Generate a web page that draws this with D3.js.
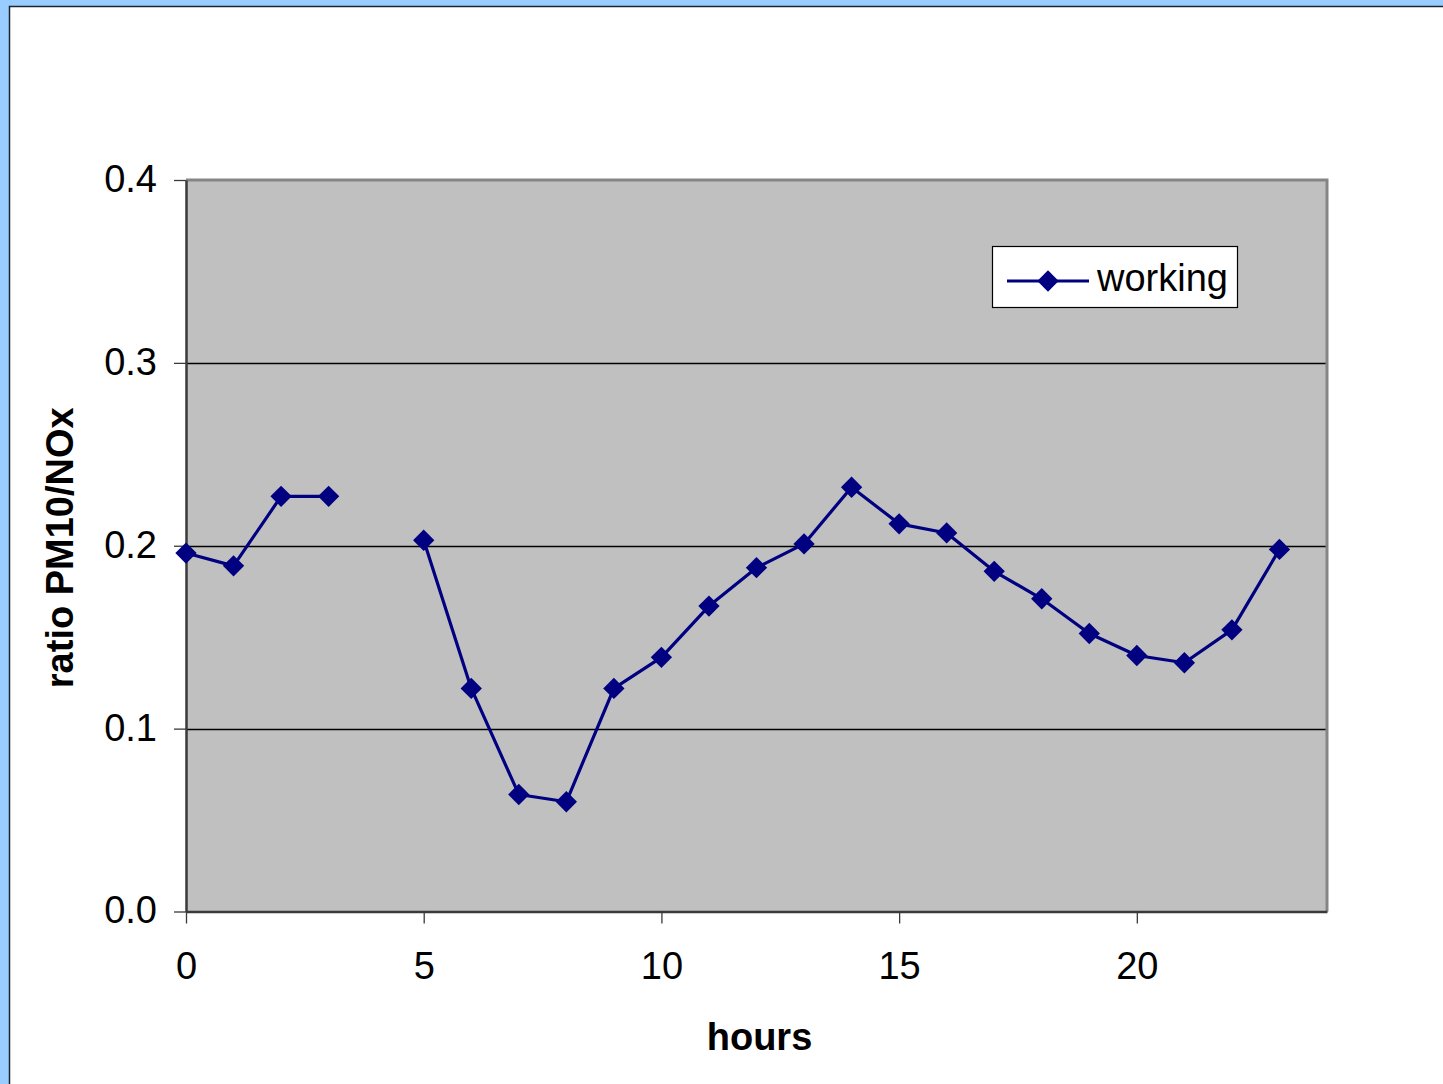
<!DOCTYPE html>
<html>
<head>
<meta charset="utf-8">
<script src="https://cdn.jsdelivr.net/npm/d3@7"></script>
<style>
  html, body { margin: 0; padding: 0; background: #99ccff; }
  svg { display: block; }
</style>
</head>
<body>
<svg id="chart" width="1443" height="1084"></svg>
<script>
// Hourly PM10/NOx ratio on working days (hour 4 has no value)
const hours = [0, 1, 2, 3, 4, 5, 6, 7, 8, 9, 10, 11, 12, 13, 14, 15, 16, 17, 18, 19, 20, 21, 22, 23];
const working = [0.196, 0.189, 0.227, 0.227, null, 0.203, 0.122, 0.064, 0.060, 0.122, 0.139, 0.167,
                 0.188, 0.201, 0.232, 0.212, 0.207, 0.186, 0.171, 0.152, 0.140, 0.136, 0.154, 0.198];
const xTicks = [0, 5, 10, 15, 20];
const yTicks = [0.0, 0.1, 0.2, 0.3, 0.4];
const seriesName = "working";
const xTitle = "hours";
const yTitle = "ratio PM10/NOx";

const svg = d3.select("#chart");
const W = 1443, H = 1084;
const font = "'Liberation Sans', Arial, sans-serif";

// outer panel
svg.append("rect").attr("width", W).attr("height", H).attr("fill", "#99ccff");
svg.append("rect").attr("x", 9.5).attr("y", 6.5).attr("width", W).attr("height", H)
  .attr("fill", "#ffffff").attr("stroke", "#1c2430").attr("stroke-width", 1.5);

const plot = { left: 186, top: 180, right: 1327, bottom: 911.5 };
const x = d3.scaleLinear().domain([0, 24]).range([plot.left, plot.right]);
const y = d3.scaleLinear().domain([0, 0.4]).range([plot.bottom, plot.top]);

// plot background
svg.append("rect")
  .attr("x", plot.left).attr("y", plot.top)
  .attr("width", plot.right - plot.left).attr("height", plot.bottom - plot.top)
  .attr("fill", "#c0c0c0");

// horizontal gridlines
svg.append("g").selectAll("line").data(yTicks.filter(d => d > 0 && d < 0.4)).join("line")
  .attr("x1", plot.left).attr("x2", plot.right)
  .attr("y1", d => Math.round(y(d)) + 0.5).attr("y2", d => Math.round(y(d)) + 0.5)
  .attr("stroke", "#000").attr("stroke-width", 1.3);

// plot frame: grey on top/right
svg.append("path")
  .attr("d", `M${plot.left},${plot.top} H${plot.right} V${plot.bottom}`)
  .attr("fill", "none").attr("stroke", "#858585").attr("stroke-width", 3);

// y axis
const yAxis = d3.axisLeft(y).tickValues(yTicks).tickFormat(d3.format(".1f"))
  .tickSize(12).tickSizeOuter(0).tickPadding(17);
const gy = svg.append("g").attr("transform", `translate(${plot.left},0)`).call(yAxis);
gy.select(".domain").attr("stroke", "#3a3a3a").attr("stroke-width", 2.5);
gy.selectAll(".tick line").attr("stroke", "#3a3a3a").attr("stroke-width", 1.3);
gy.selectAll(".tick text").attr("font-family", font).attr("font-size", 38).attr("fill", "#000")
  .attr("dy", "0.3em");

// x axis
const xAxis = d3.axisBottom(x).tickValues(xTicks).tickFormat(d3.format("d"))
  .tickSize(12).tickSizeOuter(0).tickPadding(29);
const gx = svg.append("g").attr("transform", `translate(0,${plot.bottom})`).call(xAxis);
gx.select(".domain").attr("stroke", "#3a3a3a").attr("stroke-width", 2.5);
gx.selectAll(".tick line").attr("stroke", "#3a3a3a").attr("stroke-width", 1.3);
gx.selectAll(".tick text").attr("font-family", font).attr("font-size", 38).attr("fill", "#000");

// axis titles
svg.append("text").attr("x", (plot.left + plot.right) / 2 + 3).attr("y", 1050)
  .attr("text-anchor", "middle").attr("font-family", font).attr("font-weight", "bold")
  .attr("font-size", 38).text(xTitle);
svg.append("text").attr("transform", `translate(73,${(plot.top + plot.bottom) / 2 + 2}) rotate(-90)`)
  .attr("text-anchor", "middle").attr("font-family", font).attr("font-weight", "bold")
  .attr("font-size", 38).text(yTitle);

// series line with a gap where data is missing
const pts = hours.map((h, i) => ({ h, v: working[i] }));
const line = d3.line().defined(d => d.v != null).x(d => x(d.h)).y(d => y(d.v));
const navy = "#000080";
svg.append("path").datum(pts).attr("d", line)
  .attr("fill", "none").attr("stroke", navy).attr("stroke-width", 3.2).attr("stroke-linejoin", "round");

// diamond markers
const diamond = d3.symbol().type(d3.symbolDiamond2).size(290);
svg.append("g").selectAll("path").data(pts.filter(d => d.v != null)).join("path")
  .attr("d", diamond)
  .attr("transform", d => `translate(${x(d.h)},${y(d.v)})`)
  .attr("fill", navy);

// legend
const lg = svg.append("g").attr("transform", "translate(992,246)");
lg.append("rect").attr("x", 0.5).attr("y", 0.5).attr("width", 245).attr("height", 61)
  .attr("fill", "#fff").attr("stroke", "#000").attr("stroke-width", 1.2);
lg.append("line").attr("x1", 15).attr("x2", 97).attr("y1", 35).attr("y2", 35)
  .attr("stroke", navy).attr("stroke-width", 3.2);
lg.append("path").attr("d", diamond).attr("transform", "translate(56,35)").attr("fill", navy);
lg.append("text").attr("x", 105).attr("y", 45).attr("font-family", font).attr("font-size", 38)
  .text(seriesName);
</script>
</body>
</html>
